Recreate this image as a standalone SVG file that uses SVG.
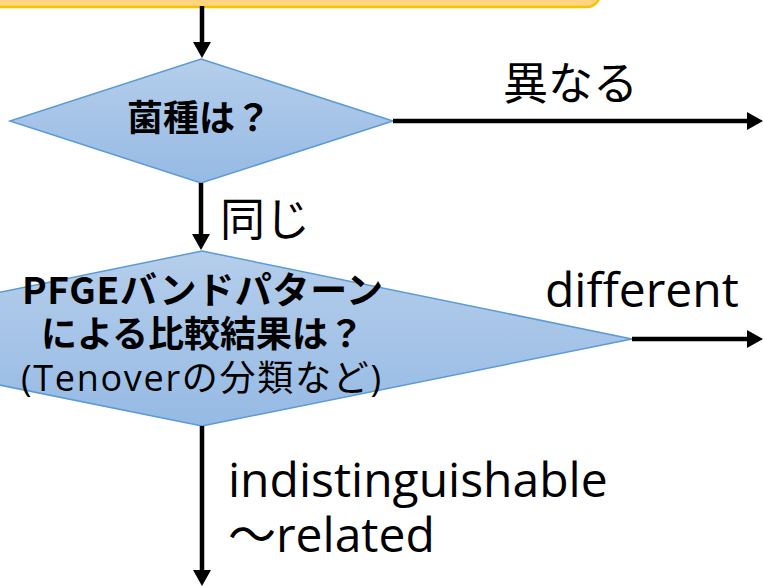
<svg xmlns="http://www.w3.org/2000/svg" width="763" height="587" viewBox="0 0 763 587">
  <style>
    .dia { stroke: #5B9BD5; stroke-width: 1.5; }
    .conn { stroke: #000; stroke-width: 4.5; fill: none; marker-end: url(#arrow); }
    .jpb { font-family: "Noto Sans CJK JP", sans-serif; font-weight: bold; fill: #000; }
    .jp { font-family: "Open Sans", "Noto Sans CJK JP", sans-serif; fill: #000; }
    .lbl { font-family: "Open Sans", "Noto Sans CJK JP", sans-serif; font-size: 48px; fill: #000; }
    .lblj { font-family: "Noto Sans CJK JP", sans-serif; font-size: 45px; fill: #000; }
  </style>
  <defs>
    <linearGradient id="blue" x1="0" y1="0" x2="0" y2="1">
      <stop offset="0" stop-color="#B5CEEB"/>
      <stop offset="1" stop-color="#96BAE4"/>
    </linearGradient>
    <marker id="arrow" markerUnits="userSpaceOnUse" markerWidth="16" markerHeight="18" refX="0" refY="9" orient="auto" viewBox="0 0 16 18">
      <path d="M0,0 L16,9 L0,18 Z" fill="#000"/>
    </marker>
  </defs>

  <g id="start-box">
    <rect x="-20" y="-40" width="620" height="47" rx="13" ry="13" fill="#FFD67F" stroke="#FFC000" stroke-width="2.5"/>
  </g>

  <g id="decision-species">
    <polygon class="dia" points="201,59 393,121 201,183 10,121" fill="url(#blue)"/>
    <text class="jpb" x="199" y="131" font-size="36" text-anchor="middle">菌種は？</text>
  </g>

  <g id="decision-pfge">
    <polygon class="dia" points="202,251 632,339 202,426 -228,339" fill="url(#blue)"/>
    <text class="jpb" x="22" y="304" font-size="37" textLength="361">PFGEバンドパターン</text>
    <text class="jpb" x="41" y="347" font-size="36">による比較結果は？</text>
    <text class="jp" x="21" y="391" font-size="36" textLength="360">(Tenoverの分類など)</text>
  </g>

  <g id="connectors">
    <line class="conn" x1="202" y1="6" x2="202" y2="42"/>
    <line class="conn" x1="393" y1="121" x2="747" y2="121"/>
    <line class="conn" x1="201" y1="183" x2="201" y2="234"/>
    <line class="conn" x1="632" y1="339" x2="747" y2="339"/>
    <line class="conn" x1="202" y1="426" x2="202" y2="570"/>
  </g>

  <g id="labels">
    <text class="lblj" x="503" y="100">異なる</text>
    <text class="lblj" x="220" y="236">同じ</text>
    <text class="lbl" x="545" y="307">different</text>
    <text class="lbl" x="228" y="497">indistinguishable</text>
    <text class="lbl" x="228" y="552">～related</text>
  </g>
</svg>
